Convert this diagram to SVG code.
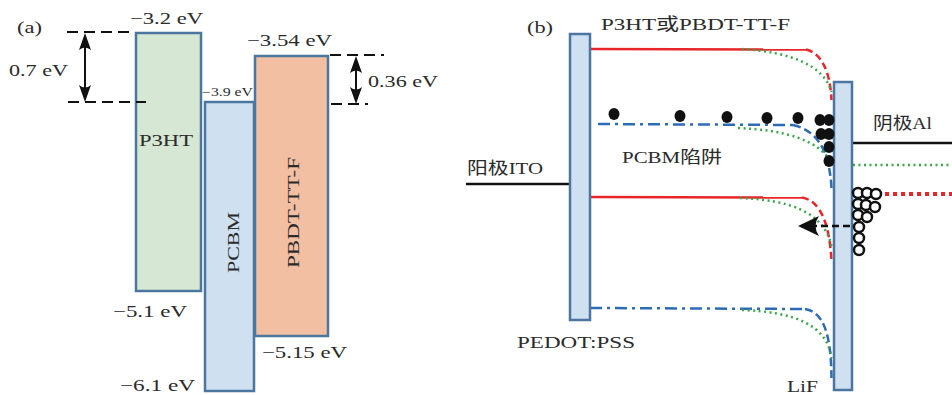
<svg xmlns="http://www.w3.org/2000/svg" width="952" height="395" viewBox="0 0 952 395">
<style>
.t{font-family:"Liberation Serif","DejaVu Serif","Noto Sans CJK SC",serif;font-size:17px;fill:#2b2b2b}
.box{stroke:#4a76a0;stroke-width:2.5}
.dsh{stroke:#111;stroke-width:2;stroke-dasharray:11 6;fill:none}
.arr{stroke:#111;stroke-width:2;fill:none}
.red{stroke:#e8262a;stroke-width:2.5;fill:none}
.redd{stroke:#e8262a;stroke-width:2.5;fill:none;stroke-dasharray:7 4}
.blue{stroke:#2c6bb6;stroke-width:2.5;fill:none;stroke-dasharray:12 5 3 5}
.blued{stroke:#2c6bb6;stroke-width:2.5;fill:none;stroke-dasharray:8 4}
.grn{stroke:#3aa64a;stroke-width:2.5;fill:none;stroke-dasharray:2 3.5}
.e{fill:#111}
.h{fill:#fff;stroke:#111;stroke-width:2.5}
</style>
<defs>
<marker id="stealth" markerUnits="userSpaceOnUse" markerWidth="18" markerHeight="14" refX="13" refY="6" orient="auto-start-reverse">
<path d="M17,6 L0,0 Q5,6 0,12 Z" fill="#111"/>
</marker>
<marker id="stealth2" markerUnits="userSpaceOnUse" markerWidth="22" markerHeight="22" refX="16" refY="10" orient="auto">
<path d="M21,10 L0,0 Q7,10 0,20 Z" fill="#111"/>
</marker>
</defs>

<!-- panel (a) -->
<text class="t" x="17" y="33" textLength="25" lengthAdjust="spacingAndGlyphs">(a)</text>

<g id="P3HT">
<rect class="box" x="136" y="33" width="65" height="258" fill="#d6e8d3"/>
<text class="t" x="139" y="146" textLength="54" lengthAdjust="spacingAndGlyphs">P3HT</text>
</g>
<g id="PCBM">
<rect class="box" x="205" y="102" width="49" height="289" fill="#cfe1f1"/>
<text class="t" transform="translate(239,273) rotate(-90)" x="0" y="0" textLength="61" lengthAdjust="spacingAndGlyphs">PCBM</text>
</g>
<g id="PBDT-TT-F">
<rect class="box" x="255" y="56" width="73" height="280" fill="#f2bfa3"/>
<text class="t" transform="translate(299,268) rotate(-90)" x="0" y="0" textLength="111" lengthAdjust="spacingAndGlyphs">PBDT-TT-F</text>
</g>

<g id="levels-a">
<text class="t" x="130" y="24" textLength="73" lengthAdjust="spacingAndGlyphs">−3.2 eV</text>
<text class="t" x="9" y="76" textLength="59" lengthAdjust="spacingAndGlyphs">0.7 eV</text>
<text class="t" x="202" y="96" textLength="51" lengthAdjust="spacingAndGlyphs" style="font-size:12px">−3.9 eV</text>
<text class="t" x="247" y="46" textLength="85" lengthAdjust="spacingAndGlyphs">−3.54 eV</text>
<text class="t" x="368" y="87" textLength="70" lengthAdjust="spacingAndGlyphs">0.36 eV</text>
<text class="t" x="113" y="317" textLength="74" lengthAdjust="spacingAndGlyphs">−5.1 eV</text>
<text class="t" x="262" y="358" textLength="85" lengthAdjust="spacingAndGlyphs">−5.15 eV</text>
<text class="t" x="120" y="391" textLength="75" lengthAdjust="spacingAndGlyphs">−6.1 eV</text>
</g>

<g id="connectors-a">
<line class="dsh" x1="67" y1="32" x2="131" y2="32"/>
<line class="dsh" x1="68" y1="102" x2="146" y2="102"/>
<line class="dsh" x1="330" y1="55" x2="384" y2="55"/>
<line class="dsh" x1="331" y1="104" x2="368" y2="104"/>
<line class="arr" x1="85" y1="37" x2="85" y2="98" marker-start="url(#stealth)" marker-end="url(#stealth)"/>
<line class="arr" x1="356" y1="60" x2="356" y2="100" marker-start="url(#stealth)" marker-end="url(#stealth)"/>
</g>

<!-- panel (b) -->
<text class="t" x="527" y="33" textLength="26" lengthAdjust="spacingAndGlyphs">(b)</text>

<g id="levels-b">
<line x1="466" y1="184" x2="570" y2="184" stroke="#111" stroke-width="2.5"/>
<line x1="852" y1="143" x2="952" y2="143" stroke="#111" stroke-width="2.5"/>
<line class="grn" x1="853" y1="165" x2="952" y2="165"/>
<line x1="853" y1="194" x2="952" y2="194" stroke="#e8262a" stroke-width="4" stroke-dasharray="4 4"/>

<line class="red" x1="590" y1="49" x2="806" y2="49.5"/>
<path class="redd" d="M806,49.5 C821,53 830,70 831.5,100"/>
<path class="grn" d="M742,49 C790,52 824,65 831.5,92"/>

<line class="blue" x1="598" y1="124" x2="793" y2="125"/>
<path class="blued" d="M793,125 C814,130 829,145 831.5,188"/>
<path class="grn" d="M738,128 C785,130 819,140 831.5,163"/>

<line class="red" x1="590" y1="197" x2="802" y2="197.5"/>
<path class="redd" d="M802,197.5 C821,201 830,225 831.5,263"/>
<path class="grn" d="M740,198 C790,200 824,212 831.5,246"/>

<line class="blue" x1="590" y1="308" x2="805" y2="309"/>
<path class="blued" d="M805,309 C824,312 831,335 831.5,378"/>
<path class="grn" d="M742,310 C795,312 827,325 831.5,358"/>
</g>

<g id="PEDOT-PSS">
<rect class="box" x="570" y="34" width="20" height="286" fill="#cfe1f1"/>
<text class="t" x="517" y="348" textLength="118" lengthAdjust="spacingAndGlyphs">PEDOT:PSS</text>
</g>
<g id="LiF">
<rect class="box" x="834" y="82" width="18" height="308" fill="#cfe1f1"/>
<text class="t" x="787" y="392" textLength="31" lengthAdjust="spacingAndGlyphs">LiF</text>
</g>

<g id="connectors-b">
<line x1="850" y1="226" x2="803" y2="226" stroke="#111" stroke-width="2.5" stroke-dasharray="7 4" marker-end="url(#stealth2)"/>
</g>

<g id="labels-b">
<text class="t" x="601" y="30" textLength="189" lengthAdjust="spacingAndGlyphs">P3HT或PBDT-TT-F</text>
<text class="t" x="467" y="174" textLength="76" lengthAdjust="spacingAndGlyphs">阳极ITO</text>
<text class="t" x="622" y="163" textLength="100" lengthAdjust="spacingAndGlyphs">PCBM陷阱</text>
<text class="t" x="873" y="129" textLength="59" lengthAdjust="spacingAndGlyphs">阴极Al</text>
</g>

<g id="electrons">
<ellipse class="e" cx="614" cy="114" rx="5.5" ry="6"/>
<ellipse class="e" cx="680" cy="116" rx="5.5" ry="6"/>
<ellipse class="e" cx="727" cy="117" rx="5.5" ry="6"/>
<ellipse class="e" cx="767" cy="118" rx="5.5" ry="6"/>
<ellipse class="e" cx="798" cy="118" rx="5.5" ry="6"/>
<ellipse class="e" cx="820" cy="120" rx="5.5" ry="6"/>
<ellipse class="e" cx="829" cy="120" rx="5.5" ry="6"/>
<ellipse class="e" cx="821" cy="134" rx="5.5" ry="6"/>
<ellipse class="e" cx="829" cy="134" rx="5.5" ry="6"/>
<ellipse class="e" cx="829" cy="147" rx="5.5" ry="6"/>
<ellipse class="e" cx="829" cy="161" rx="5.5" ry="6"/>
</g>

<g id="holes">
<circle class="h" cx="858" cy="193" r="5"/>
<circle class="h" cx="867" cy="193" r="5"/>
<circle class="h" cx="876" cy="194" r="5"/>
<circle class="h" cx="858" cy="204" r="5"/>
<circle class="h" cx="866" cy="205" r="5"/>
<circle class="h" cx="875" cy="207" r="5"/>
<circle class="h" cx="858" cy="215" r="5"/>
<circle class="h" cx="867" cy="217" r="5"/>
<circle class="h" cx="859" cy="227" r="5"/>
<circle class="h" cx="859" cy="238" r="5"/>
<circle class="h" cx="859" cy="250" r="5"/>
</g>
</svg>
